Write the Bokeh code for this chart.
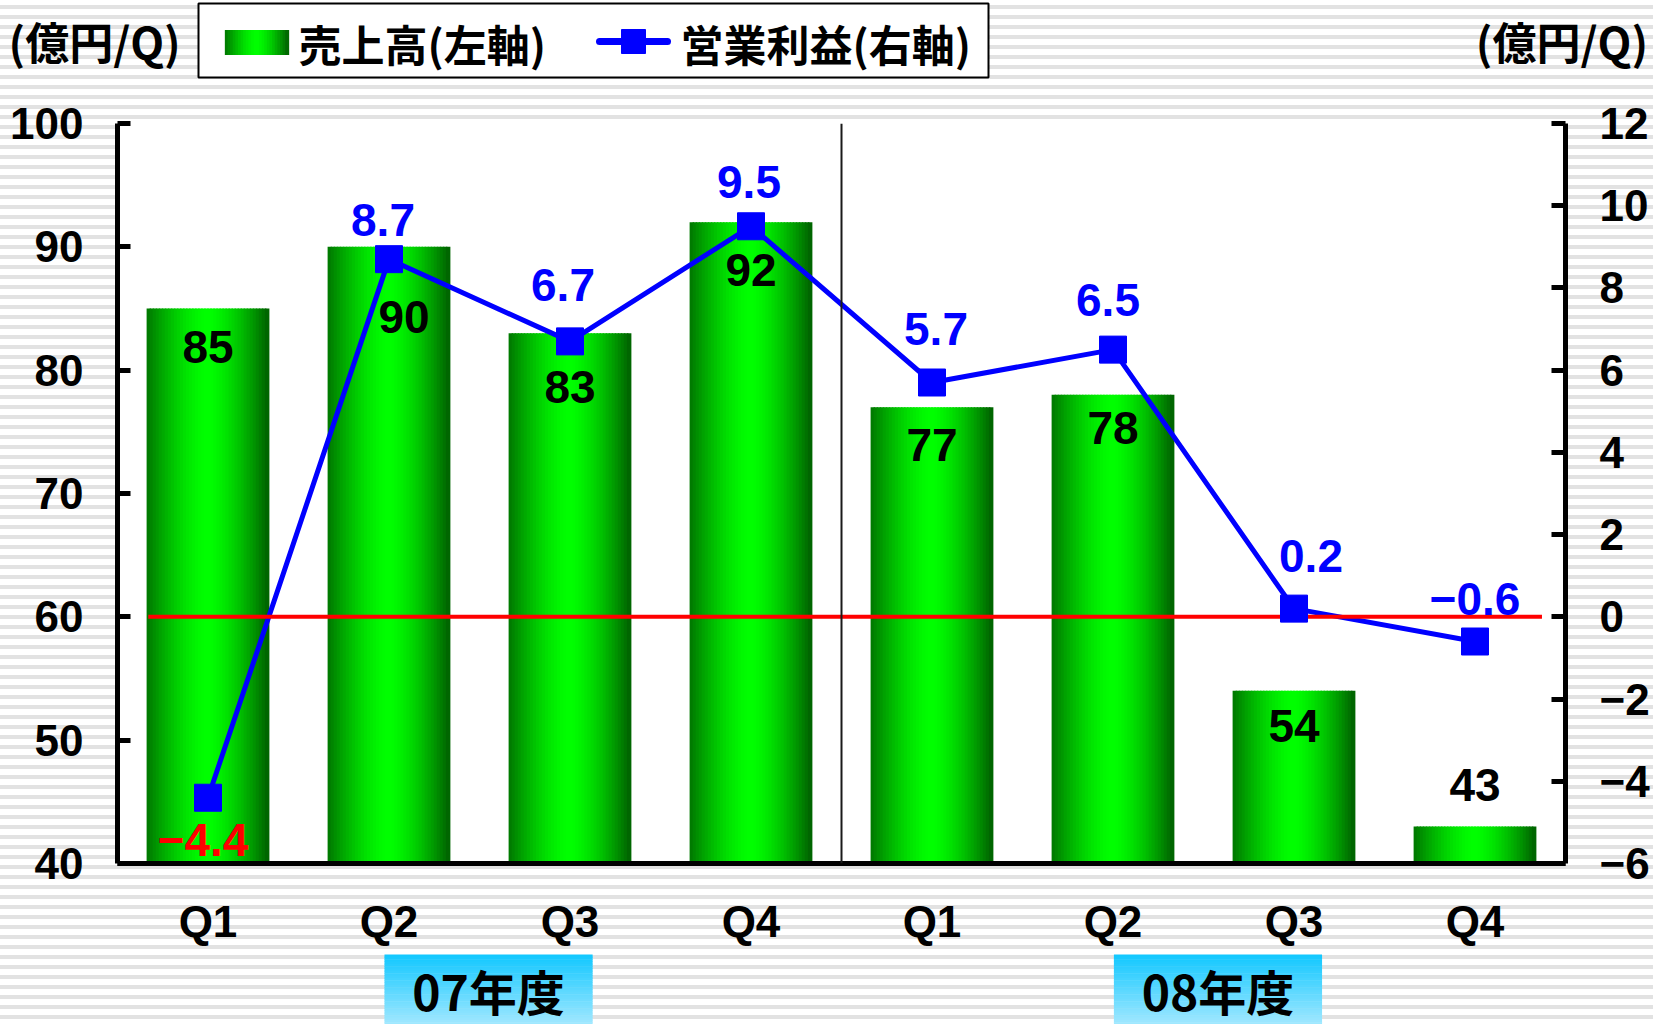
import numpy as np
from bokeh.plotting import figure
from bokeh.layouts import column
from bokeh.models import (Range1d, LinearAxis, FixedTicker, Span, InlineStyleSheet)
from bokeh.core.properties import value
from bokeh.embed import file_html
from bokeh.resources import INLINE

# ---------------- data ----------------
quarters = ["Q1", "Q2", "Q3", "Q4", "Q1", "Q2", "Q3", "Q4"]
fiscal_years = ["07年度", "08年度"]
sales = [85, 90, 83, 92, 77, 78, 54, 43]            # 売上高 (left axis)
profit = [-4.4, 8.7, 6.7, 9.5, 5.7, 6.5, 0.2, -0.6]  # 営業利益 (right axis)
left_ticks = [40, 50, 60, 70, 80, 90, 100]
right_ticks = [-6, -4, -2, 0, 2, 4, 6, 8, 10, 12]
unit_label = "(億円/Q)"
legend_labels = ["売上高(左軸)", "営業利益(右軸)"]

# label placement (screen px offsets) and styles
sales_label_dx = [0, 15, 0, 0, 0, 0, 0, 0]
sales_label_dy = [38, 70, 54, 48, 38, 33, 35, -42]
profit_label_dx = [-5, -6, -7, -2, 4, -5, 17, 0]
profit_label_dy = [42, -39, -56, -44, -54, -50, -53, -43]
profit_label_colors = ["#ff0000"] + ["#0000ff"] * 7

MINUS = "\u2212"
NUM_FONT = "Liberation Sans"
CJK_FONT = "Noto Sans CJK JP"

W = 1653
TOP_H = 100
MAIN_H = 849
BOT_H = 75
BL, BR = 117, 88

n = len(sales)
xc = [i + 0.5 for i in range(n)]
x_range = Range1d(0, n)


def green_profile(t):
    d = abs(t - 0.5) * 2
    edge = 118 if t < 0.5 else 96
    g = int(round(255 - (255 - edge) * d ** 1.5))
    return f"#00{g:02x}00"


def bare(fig):
    fig.background_fill_alpha = 0
    fig.border_fill_alpha = 0
    fig.outline_line_color = None
    fig.xgrid.visible = False
    fig.ygrid.visible = False


# ================= top strip: legend + units =================
top = figure(width=W, height=TOP_H, output_backend="svg", toolbar_location=None,
             x_range=Range1d(0, W), y_range=Range1d(TOP_H, 0),
             x_axis_type=None, y_axis_type=None,
             min_border=0, min_border_left=0, min_border_right=0,
             min_border_top=0, min_border_bottom=0)
top.frame_align = False
bare(top)
unit_font = dict(text_font=value(CJK_FONT), text_font_style="bold", text_font_size="44px",
                 text_color="black", text_baseline="middle")
top.text(x=[8], y=[40], text=[unit_label], text_align="left", **unit_font)
top.text(x=[W - 6], y=[40], text=[unit_label], text_align="right", **unit_font)

# legend box (drawn by hand so the bar swatch can carry the gradient)
top.quad(left=[198], right=[988], top=[3], bottom=[77], fill_color="white",
         line_color="black", line_width=2)
SW = 24
sw_l, sw_r = 225, 288
sx = [sw_l + (sw_r - sw_l) * (k + 0.5) / SW for k in range(SW)]
top.rect(x=sx, y=[42] * SW, width=(sw_r - sw_l) / SW * 1.5, height=25,
         fill_color=[green_profile((k + 0.5) / SW) for k in range(SW)], line_color=None)
leg_font = dict(text_font=value(CJK_FONT), text_font_style="bold", text_font_size="43px",
                text_color="black", text_baseline="middle", text_align="left")
top.text(x=[298], y=[42], text=[legend_labels[0]], **leg_font)
top.line(x=[599, 667], y=[41, 41], line_color="#0000ff", line_width=7, line_cap="round")
top.scatter(x=[633], y=[41], marker="square", size=24, fill_color="#0000ff",
            line_color="#0000ff")
top.text(x=[680], y=[42], text=[legend_labels[1]], **leg_font)

# ================= main chart =================
p = figure(width=W, height=MAIN_H, output_backend="svg", toolbar_location=None,
           x_range=x_range, y_range=Range1d(left_ticks[0], left_ticks[-1]),
           min_border_left=BL, min_border_right=BR, min_border_top=23,
           min_border_bottom=86)
p.extra_y_ranges = {"profit": Range1d(right_ticks[0], right_ticks[-1])}
bare(p)
p.background_fill_color = "white"
p.background_fill_alpha = 1

# bars with horizontal gradient (drawn as thin slices)
N = 40
bw = 0.67
xs, tops, cols = [], [], []
for i, v in enumerate(sales):
    for k in range(N):
        t = (k + 0.5) / N
        xs.append(xc[i] - bw / 2 + t * bw)
        tops.append(v)
        cols.append(green_profile(t))
bars = p.vbar(x=xs, top=tops, bottom=left_ticks[0], width=bw / N * 1.5,
              fill_color=cols, line_color=None)

# divider between fiscal years
p.add_layout(Span(location=n / 2, dimension="height", line_color="#1a1a1a", line_width=2))

# profit line
pline = p.line(xc, profit, line_color="#0000ff", line_width=5, y_range_name="profit")
p.segment(x0=[0.17], x1=[7.87], y0=[0], y1=[0], line_color="#ff0000", line_width=4,
          y_range_name="profit")
pmark = p.scatter(xc, profit, marker="square", size=27, fill_color="#0000ff",
                  line_color="#0000ff", y_range_name="profit")

# data labels
p.text(x=xc, y=sales, text=[str(v) for v in sales], x_offset=sales_label_dx,
       y_offset=sales_label_dy, text_align="center", text_baseline="middle",
       text_font=value(NUM_FONT), text_font_style="bold", text_font_size="46px",
       text_color="black")
p.text(x=xc, y=profit, text=[f"{v:.1f}".replace("-", MINUS) for v in profit],
       x_offset=profit_label_dx, y_offset=profit_label_dy, text_align="center",
       text_baseline="middle", text_font=value(NUM_FONT), text_font_style="bold",
       text_font_size="46px", text_color=profit_label_colors, y_range_name="profit")


def style_axis(ax):
    ax.axis_line_width = 5
    ax.axis_line_color = "black"
    ax.major_tick_line_width = 5
    ax.major_tick_line_color = "black"
    ax.minor_tick_line_color = None
    ax.major_label_text_font = NUM_FONT
    ax.major_label_text_font_style = "bold"
    ax.major_label_text_font_size = "44px"
    ax.major_label_text_color = "black"


yl = p.yaxis[0]
yl.ticker = FixedTicker(ticks=left_ticks)
style_axis(yl)
yl.major_tick_in = 13
yl.major_tick_out = 0
yl.major_label_standoff = 34

yr = LinearAxis(y_range_name="profit", ticker=FixedTicker(ticks=right_ticks))
style_axis(yr)
yr.major_tick_in = 14
yr.major_tick_out = 0
yr.major_label_standoff = 34
yr.major_label_overrides = {t: str(t).replace("-", MINUS) for t in right_ticks}
p.add_layout(yr, "right")

xa = p.xaxis[0]
xa.ticker = FixedTicker(ticks=xc)
xa.major_label_overrides = {x: q for x, q in zip(xc, quarters)}
style_axis(xa)
xa.major_tick_in = 0
xa.major_tick_out = 0
xa.major_label_standoff = 33

# ================= bottom strip: fiscal-year boxes =================
bot = figure(width=W, height=BOT_H, output_backend="svg", toolbar_location=None,
             x_range=x_range, y_range=Range1d(BOT_H, 0),
             x_axis_type=None, y_axis_type=None,
             min_border_left=BL, min_border_right=BR, min_border_top=0,
             min_border_bottom=0)
bare(bot)

fy_centers = [2.05, 6.08]
box_half = 0.575
box_top, box_bottom = 5, BOT_H
S = 30
ql, qr, qt, qb, qc = [], [], [], [], []
for c in fy_centers:
    for k in range(S):
        f = k / (S - 1)
        r = int(20 + (160 - 20) * f)
        g = int(200 + (232 - 200) * f)
        y0 = box_top + (box_bottom - box_top) * k / S
        y1 = box_top + (box_bottom - box_top) * (k + 1) / S + 0.6
        ql.append(c - box_half); qr.append(c + box_half)
        qt.append(y0); qb.append(min(y1, box_bottom))
        qc.append(f"#{r:02x}{g:02x}ff")
bot.quad(left=ql, right=qr, top=qt, bottom=qb, fill_color=qc, line_color=None)
bot.text(x=fy_centers, y=[40, 40], text=fiscal_years, text_align="center",
         text_baseline="middle", text_font=value(CJK_FONT), text_font_style="bold",
         text_font_size="48px", text_color="black")

layout = column(top, p, bot, spacing=0)
layout.stylesheets = [InlineStyleSheet(css=":host{background: repeating-linear-gradient(180deg, #ffffff 0px, #ffffff 5px, #e2e2e2 5px, #e2e2e2 9px, #ffffff 9px, #ffffff 10px);}")]

open("out.html", "w").write(file_html(layout, INLINE))
